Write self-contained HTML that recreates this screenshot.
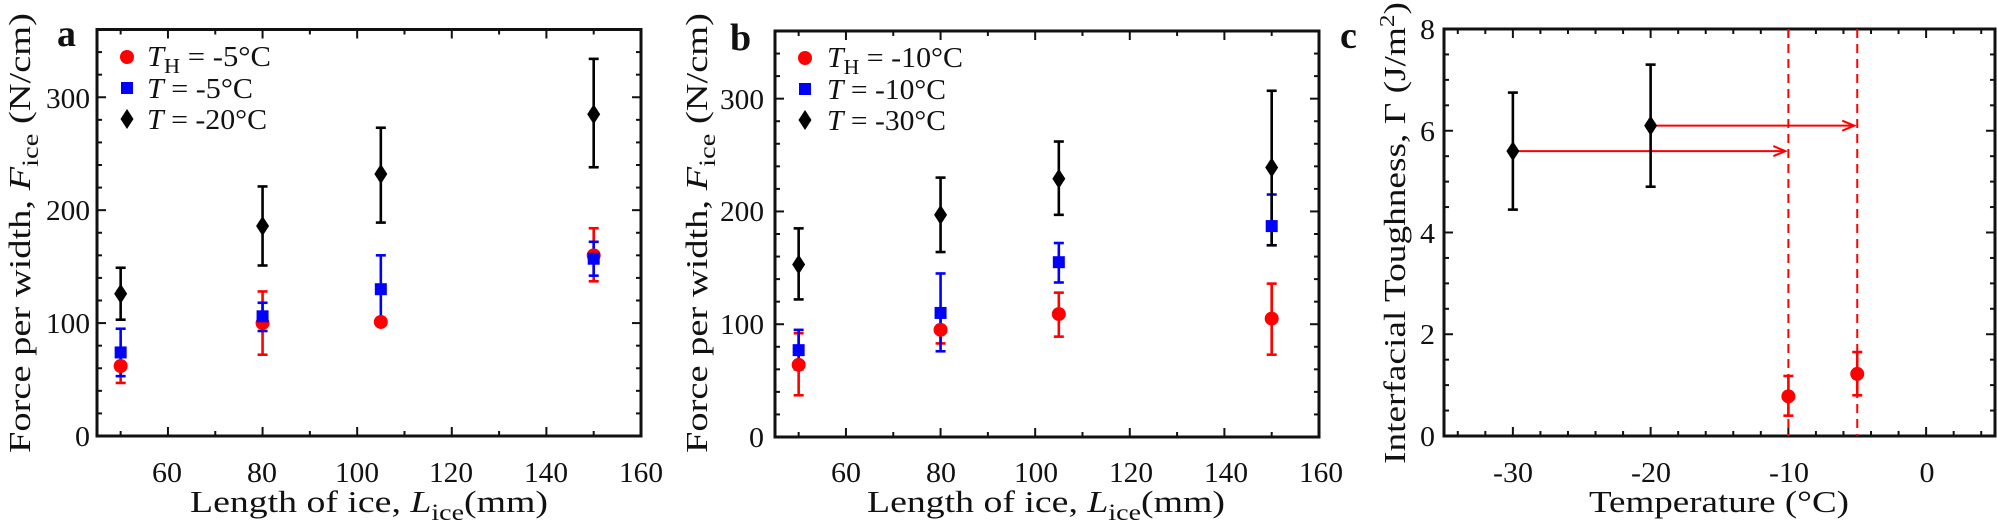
<!DOCTYPE html>
<html><head><meta charset="utf-8">
<style>
html,body{margin:0;padding:0;background:#fff;}
svg{display:block;}
text{font-family:"Liberation Serif","DejaVu Serif",serif;fill:#111;}
</style></head>
<body>
<svg id="s" width="1997" height="525" viewBox="0 0 1997 525" xmlns="http://www.w3.org/2000/svg">
<g id="plots"></g>
<!-- panel a text -->
<text x="57" y="46" font-size="38" font-weight="bold">a</text>
<g font-size="29" text-anchor="end" lengthAdjust="spacingAndGlyphs">
<text x="90" y="446" textLength="15" lengthAdjust="spacingAndGlyphs">0</text><text x="90" y="333" textLength="44" lengthAdjust="spacingAndGlyphs">100</text><text x="90" y="220" textLength="44" lengthAdjust="spacingAndGlyphs">200</text><text x="90" y="108" textLength="44" lengthAdjust="spacingAndGlyphs">300</text>
</g>
<g font-size="29" text-anchor="middle">
<text x="167" y="482" textLength="30" lengthAdjust="spacingAndGlyphs">60</text><text x="262" y="482" textLength="30" lengthAdjust="spacingAndGlyphs">80</text><text x="357" y="482" textLength="44" lengthAdjust="spacingAndGlyphs">100</text><text x="451" y="482" textLength="44" lengthAdjust="spacingAndGlyphs">120</text><text x="546" y="482" textLength="44" lengthAdjust="spacingAndGlyphs">140</text><text x="641" y="482" textLength="44" lengthAdjust="spacingAndGlyphs">160</text>
</g>
<text x="190" y="512" font-size="31" textLength="358" lengthAdjust="spacingAndGlyphs">Length of ice, <tspan font-style="italic">L</tspan><tspan font-size="23" dy="8">ice</tspan><tspan dy="-8">(mm)</tspan></text>
<text transform="translate(30,233) rotate(-90)" font-size="31" text-anchor="middle" textLength="440" lengthAdjust="spacingAndGlyphs">Force per width, <tspan font-style="italic">F</tspan><tspan font-size="23" dy="8">ice</tspan><tspan dy="-8"> (N/cm)</tspan></text>
<g font-size="29">
<text x="147" y="66" textLength="124" lengthAdjust="spacingAndGlyphs"><tspan font-style="italic">T</tspan><tspan font-size="21" dy="7">H</tspan><tspan dy="-7"> = -5°C</tspan></text>
<text x="147" y="98" textLength="106" lengthAdjust="spacingAndGlyphs"><tspan font-style="italic">T</tspan> = -5°C</text>
<text x="147" y="129" textLength="120" lengthAdjust="spacingAndGlyphs"><tspan font-style="italic">T</tspan> = -20°C</text>
</g>
<!-- panel b text -->
<text x="730" y="50" font-size="38" font-weight="bold">b</text>
<g font-size="29" text-anchor="end">
<text x="764" y="447" textLength="15" lengthAdjust="spacingAndGlyphs">0</text><text x="764" y="334" textLength="44" lengthAdjust="spacingAndGlyphs">100</text><text x="764" y="221" textLength="44" lengthAdjust="spacingAndGlyphs">200</text><text x="764" y="109" textLength="44" lengthAdjust="spacingAndGlyphs">300</text>
</g>
<g font-size="29" text-anchor="middle">
<text x="846" y="482" textLength="30" lengthAdjust="spacingAndGlyphs">60</text><text x="941" y="482" textLength="30" lengthAdjust="spacingAndGlyphs">80</text><text x="1036" y="482" textLength="44" lengthAdjust="spacingAndGlyphs">100</text><text x="1131" y="482" textLength="44" lengthAdjust="spacingAndGlyphs">120</text><text x="1226" y="482" textLength="44" lengthAdjust="spacingAndGlyphs">140</text><text x="1321" y="482" textLength="44" lengthAdjust="spacingAndGlyphs">160</text>
</g>
<text x="867" y="512" font-size="31" textLength="358" lengthAdjust="spacingAndGlyphs">Length of ice, <tspan font-style="italic">L</tspan><tspan font-size="23" dy="8">ice</tspan><tspan dy="-8">(mm)</tspan></text>
<text transform="translate(707,233) rotate(-90)" font-size="31" text-anchor="middle" textLength="440" lengthAdjust="spacingAndGlyphs">Force per width, <tspan font-style="italic">F</tspan><tspan font-size="23" dy="8">ice</tspan><tspan dy="-8"> (N/cm)</tspan></text>
<g font-size="29">
<text x="827" y="67" textLength="136" lengthAdjust="spacingAndGlyphs"><tspan font-style="italic">T</tspan><tspan font-size="21" dy="7">H</tspan><tspan dy="-7"> = -10°C</tspan></text>
<text x="827" y="99" textLength="119" lengthAdjust="spacingAndGlyphs"><tspan font-style="italic">T</tspan> = -10°C</text>
<text x="827" y="130" textLength="119" lengthAdjust="spacingAndGlyphs"><tspan font-style="italic">T</tspan> = -30°C</text>
</g>
<!-- panel c text -->
<text x="1340" y="48" font-size="38" font-weight="bold">c</text>
<g font-size="29" text-anchor="end">
<text x="1435" y="446" textLength="15" lengthAdjust="spacingAndGlyphs">0</text><text x="1435" y="344" textLength="15" lengthAdjust="spacingAndGlyphs">2</text><text x="1435" y="243" textLength="15" lengthAdjust="spacingAndGlyphs">4</text><text x="1435" y="141" textLength="15" lengthAdjust="spacingAndGlyphs">6</text><text x="1435" y="39" textLength="15" lengthAdjust="spacingAndGlyphs">8</text>
</g>
<g font-size="29" text-anchor="middle">
<text x="1513" y="482" textLength="40" lengthAdjust="spacingAndGlyphs">-30</text><text x="1651" y="482" textLength="40" lengthAdjust="spacingAndGlyphs">-20</text><text x="1789" y="482" textLength="40" lengthAdjust="spacingAndGlyphs">-10</text><text x="1927" y="482" textLength="15" lengthAdjust="spacingAndGlyphs">0</text>
</g>
<text x="1589" y="512" font-size="31" textLength="260" lengthAdjust="spacingAndGlyphs">Temperature (°C)</text>
<text transform="translate(1405,233) rotate(-90)" font-size="31" text-anchor="middle" textLength="462" lengthAdjust="spacingAndGlyphs">Interfacial Toughness, Γ (J/m<tspan font-size="21" dy="-11">2</tspan><tspan dy="11">)</tspan></text>
</svg>
<script>
(function(){
var g=document.getElementById("plots"),h="";
function ax(L,R,T,B,xmin,xmax,xmaj,xmin2,ymin,ymax,ymaj,ymin2){
 var X=function(v){return L+(v-xmin)/(xmax-xmin)*(R-L)},Y=function(v){return B-(v-ymin)/(ymax-ymin)*(B-T)};
 var s="";
 for(var v=Math.ceil(xmin/xmin2)*xmin2;v<=xmax+1e-9;v+=xmin2){var len=(Math.abs(v/xmaj-Math.round(v/xmaj))<1e-6)?9:5;var x=X(v);
  s+='<line x1="'+x+'" y1="'+B+'" x2="'+x+'" y2="'+(B-len)+'" stroke="#111" stroke-width="2"/>';
  s+='<line x1="'+x+'" y1="'+T+'" x2="'+x+'" y2="'+(T+len)+'" stroke="#111" stroke-width="2"/>';}
 for(var v=ymin;v<=ymax+1e-9;v+=ymin2){var len=(Math.abs(v/ymaj-Math.round(v/ymaj))<1e-6)?9:5;var y=Y(v);
  s+='<line x1="'+L+'" y1="'+y+'" x2="'+(L+len)+'" y2="'+y+'" stroke="#111" stroke-width="2"/>';
  s+='<line x1="'+R+'" y1="'+y+'" x2="'+(R-len)+'" y2="'+y+'" stroke="#111" stroke-width="2"/>';}
 s+='<rect x="'+L+'" y="'+T+'" width="'+(R-L)+'" height="'+(B-T)+'" fill="none" stroke="#111" stroke-width="3"/>';
 h+=s;return [X,Y];
}
function eb(x,y1,y2,c){h+='<line x1="'+x+'" y1="'+y1+'" x2="'+x+'" y2="'+y2+'" stroke="'+c+'" stroke-width="2.6"/>'+
 '<line x1="'+(x-5)+'" y1="'+y1+'" x2="'+(x+5)+'" y2="'+y1+'" stroke="'+c+'" stroke-width="2.6"/>'+
 '<line x1="'+(x-5)+'" y1="'+y2+'" x2="'+(x+5)+'" y2="'+y2+'" stroke="'+c+'" stroke-width="2.6"/>';}
function mk(t,x,y){
 if(t==0)h+='<circle cx="'+x+'" cy="'+y+'" r="7" fill="#f00"/>';
 else if(t==1)h+='<rect x="'+(x-6)+'" y="'+(y-6)+'" width="12" height="12" fill="#00f"/>';
 else h+='<polygon points="'+x+','+(y-10)+' '+(x+6.5)+','+y+' '+x+','+(y+10)+' '+(x-6.5)+','+y+'" fill="#000"/>';}
var col=["#f00","#00f","#000"];
function series(f,data){for(var t=0;t<3;t++)for(var i=0;i<data[t].length;i++){var d=data[t][i];eb(f[0](d[0]),f[1](d[2]),f[1](d[3]),col[t]);}
 for(var t=0;t<3;t++)for(var i=0;i<data[t].length;i++){var d=data[t][i];mk(t,f[0](d[0]),f[1](d[1]));}}
var fa=ax(97,641,29.5,436,45,160,20,10,0,360,100,20);
series(fa,[[[50,62,47,78],[80,100,72,128],[105,101,99,104],[150,160,137,184]],
 [[50,74,53,95],[80,106,93,118],[105,130,100,160],[150,157,142,172]],
 [[50,126,103,149],[80,186,151,221],[105,232,189,273],[150,285,238,334]]]);
mk(0,127,57);mk(1,127,88);mk(2,127,119);
var fb=ax(775,1319,31,437,45,160,20,10,0,360,100,20);
series(fb,[[[50,64,37,92],[80,95,83,107],[105,109,89,128],[150,105,73,136]],
 [[50,77,60,95],[80,110,76,145],[105,155,137,172],[150,187,170,215]],
 [[50,153,122,185],[80,197,164,230],[105,229,197,262],[150,239,170,307]]]);
mk(0,805,58);mk(1,805,89);mk(2,805,120);
var fc=ax(1444,1995,29,436,-35,5,10,2,0,8,2,0.5);
var X=fc[0],Y=fc[1];
h+='<line x1="'+X(-10)+'" y1="29" x2="'+X(-10)+'" y2="436" stroke="#f00" stroke-width="2" stroke-dasharray="9,6"/>';
h+='<line x1="'+X(-5)+'" y1="29" x2="'+X(-5)+'" y2="436" stroke="#f00" stroke-width="2" stroke-dasharray="9,6"/>';
function arr(x1,x2,y){h+='<line x1="'+x1+'" y1="'+y+'" x2="'+x2+'" y2="'+y+'" stroke="#f00" stroke-width="2"/>'+
 '<polyline points="'+(x2-12)+','+(y-5)+' '+x2+','+y+' '+(x2-12)+','+(y+5)+'" fill="none" stroke="#f00" stroke-width="2"/>';}
arr(X(-30),X(-10)-3,Y(5.6));arr(X(-20),X(-5)-3,Y(6.1));
eb(X(-30),Y(4.45),Y(6.75),"#000");eb(X(-20),Y(4.9),Y(7.3),"#000");
eb(X(-10),Y(0.4),Y(1.18),"#f00");eb(X(-5),Y(0.8),Y(1.65),"#f00");
mk(2,X(-30),Y(5.6));mk(2,X(-20),Y(6.1));mk(0,X(-10),Y(0.78));mk(0,X(-5),Y(1.22));
g.innerHTML=h;
})();
</script>
</body></html>
